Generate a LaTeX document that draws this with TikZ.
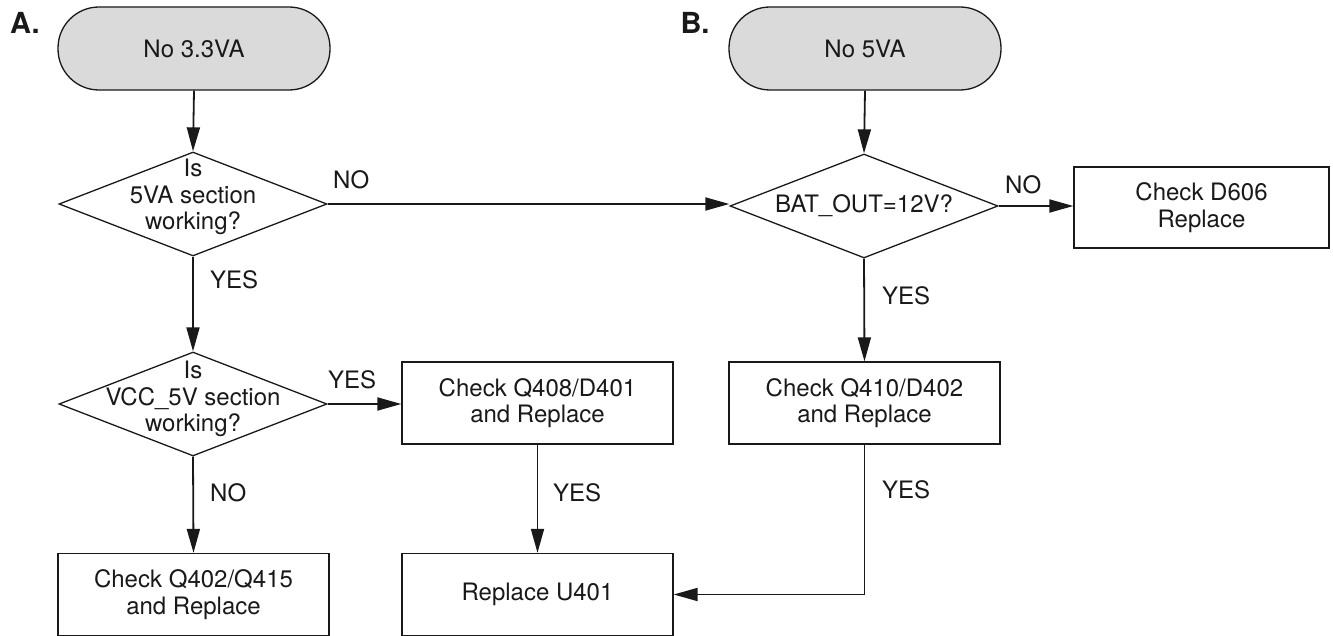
\documentclass[tikz,border=0pt]{standalone}
\usepackage{fontspec}
\setmainfont{TeX Gyre Heros}
\usetikzlibrary{arrows.meta,shapes.geometric}
\definecolor{pillgray}{RGB}{218,218,218}
\definecolor{ink}{RGB}{25,25,25}
\begin{document}
\begin{tikzpicture}[x=1pt,y=-1pt,
  txt/.style={font=\fontsize{24}{26.5}\selectfont, text=ink},
  term/.style={txt, draw=ink, line width=1.3pt, fill=pillgray, rounded corners=41pt,
    minimum width=272pt, minimum height=83pt, inner sep=0},
  box/.style={txt, draw=ink, line width=1.3pt, minimum width=271pt, minimum height=82pt,
    align=center, inner sep=0},
  dia/.style={draw=ink, diamond, line width=1.3pt, minimum width=268pt, minimum height=104pt, inner sep=0},
  lbl/.style={txt, anchor=west, inner sep=0},
  head/.style={font=\bfseries\fontsize{29}{30}\selectfont, text=ink, inner sep=0},
  arr/.style={draw=ink, line width=1.8pt, -{Triangle[length=24pt,width=13pt]}}
]
\useasboundingbox (0,0) rectangle (1333,636);

% section headings
\node[head] (hA) at (25,22.5) {A.};
\node[head] (hB) at (695,22.5) {B.};

% column A
\node[term] (pA) at (194,48.5) {No 3.3VA};
\node[dia] (dA) at (193,204) {};
\node[txt, align=center] (dAt) at (193,197) {Is\\5VA section\\working?};
\node[dia] (dA2) at (193,404) {};
\node[txt, align=center] (dA2t) at (193,399) {Is\\VCC\_5V section\\working?};
\node[box] (q402) at (193.5,594.5) {Check Q402/Q415\\and Replace};

% middle column
\node[box] (q408) at (537.5,403) {Check Q408/D401\\and Replace};
\node[box] (u401) at (537.5,594.5) {Replace U401};

% column B
\node[term] (pB) at (865,48.5) {No 5VA};
\node[dia] (dB) at (864,206) {};
\node[txt] (dBt) at (864,206) {BAT\_OUT=12V?};
\node[box] (q410) at (864.5,403) {Check Q410/D402\\and Replace};
\node[box, minimum width=255pt, minimum height=81pt] (d606) at (1201.5,207.5) {Check D606\\Replace};

% connectors
\draw[arr] (pA.south) -- (dA.north);
\draw[arr] (pB.south) -- (dB.north);
\draw[arr] (dA.east) -- (dA.east -| dB.west);
\draw[arr] (dA.south) -- (dA2.north);
\draw[arr] (dA2.east) -- (dA2.east -| q408.west);
\draw[arr] (dA2.south) -- (q402.north);
\draw[arr] (q408.south) -- (u401.north);
\draw[arr] (dB.east) -- (dB.east -| d606.west);
\draw[arr] (dB.south) -- (q410.north);
\draw[arr] (q410.south) |- (u401.east);

% connector labels
\node[lbl] (l1) at (333,180) {NO};
\node[lbl] (l2) at (210,280) {YES};
\node[lbl] (l3) at (328,380) {YES};
\node[lbl] (l4) at (210,493) {NO};
\node[lbl] (l5) at (553,493) {YES};
\node[lbl] (l6) at (1005,185) {NO};
\node[lbl] (l7) at (882,296) {YES};
\node[lbl] (l8) at (882,490) {YES};
\end{tikzpicture}
\end{document}
